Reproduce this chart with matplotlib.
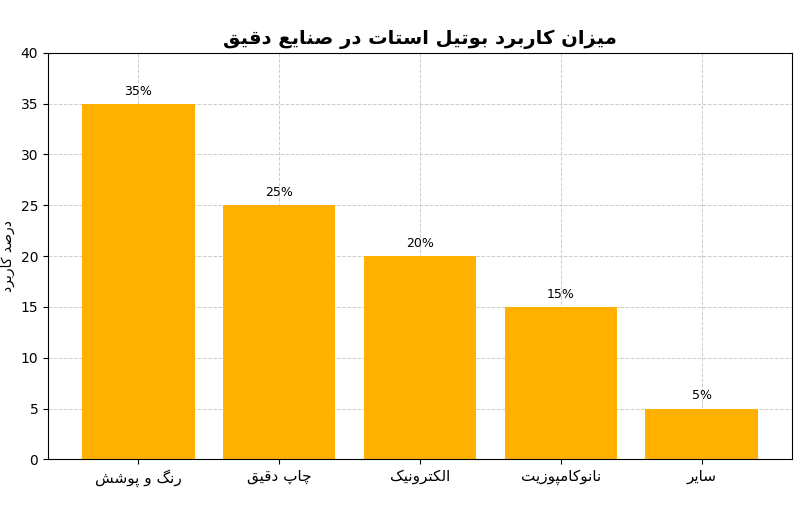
import matplotlib
matplotlib.use("Agg")
import matplotlib.pyplot as plt

categories = ["رنگ و پوشش", "چاپ دقیق", "الکترونیک", "نانوکامپوزیت", "سایر"]
values = [35, 25, 20, 15, 5]
labels = ["35%", "25%", "20%", "15%", "5%"]
title = "میزان کاربرد بوتیل استات در صنایع دقیق"
ylabel = "درصد کاربرد"

FORMS = {
    'ا': (0xFE8D, 0xFE8E, None, None), 'ب': (0xFE8F, 0xFE90, 0xFE91, 0xFE92),
    'پ': (0xFB56, 0xFB57, 0xFB58, 0xFB59), 'ت': (0xFE95, 0xFE96, 0xFE97, 0xFE98),
    'چ': (0xFB7A, 0xFB7B, 0xFB7C, 0xFB7D), 'د': (0xFEA9, 0xFEAA, None, None),
    'ر': (0xFEAD, 0xFEAE, None, None), 'ز': (0xFEAF, 0xFEB0, None, None),
    'س': (0xFEB1, 0xFEB2, 0xFEB3, 0xFEB4), 'ش': (0xFEB5, 0xFEB6, 0xFEB7, 0xFEB8),
    'ص': (0xFEB9, 0xFEBA, 0xFEBB, 0xFEBC), 'ع': (0xFEC9, 0xFECA, 0xFECB, 0xFECC),
    'ق': (0xFED5, 0xFED6, 0xFED7, 0xFED8), 'ک': (0xFB8E, 0xFB8F, 0xFB90, 0xFB91),
    'گ': (0xFB92, 0xFB93, 0xFB94, 0xFB95), 'ل': (0xFEDD, 0xFEDE, 0xFEDF, 0xFEE0),
    'م': (0xFEE1, 0xFEE2, 0xFEE3, 0xFEE4), 'ن': (0xFEE5, 0xFEE6, 0xFEE7, 0xFEE8),
    'و': (0xFEED, 0xFEEE, None, None), 'ی': (0xFBFC, 0xFBFD, 0xFBFE, 0xFBFF),
}

def shape(s):
    out = []
    n = len(s)
    for i, c in enumerate(s):
        if c not in FORMS:
            out.append(c); continue
        prev = s[i-1] if i > 0 else None
        nxt = s[i+1] if i < n-1 else None
        jp = prev in FORMS and FORMS[prev][2] is not None
        jn = nxt in FORMS and FORMS[c][2] is not None
        iso, fin, ini, med = FORMS[c]
        if jp and jn: cp = med
        elif jp: cp = fin
        elif jn: cp = ini
        else: cp = iso
        out.append(chr(cp))
    return "".join(out)[::-1]

plt.rcParams['font.family'] = ['DejaVu Sans']
fig, ax = plt.subplots(figsize=(8, 5.28), dpi=100)
x = range(len(categories))
bars = ax.bar(x, values, width=0.8, color='#FFB000', zorder=2)
for b, l in zip(bars, labels):
    ax.text(b.get_x() + b.get_width()/2, b.get_height() + 0.6, l, ha='center', va='bottom', fontsize=9)
ax.set_xticks(list(x))
ax.set_xticklabels([shape(c) for c in categories], fontsize=11)
ax.set_ylim(0, 40)
ax.set_yticks(range(0, 41, 5))
ax.set_ylabel(shape(ylabel), fontsize=10)
ax.set_title(shape(title), fontsize=14, fontweight='bold')
ax.grid(True, linestyle='--', color='#cccccc', linewidth=0.7, zorder=0)
ax.set_axisbelow(True)
fig.subplots_adjust(left=0.06, right=0.99, top=0.9, bottom=0.13)
fig.savefig("out.png", dpi=100)
